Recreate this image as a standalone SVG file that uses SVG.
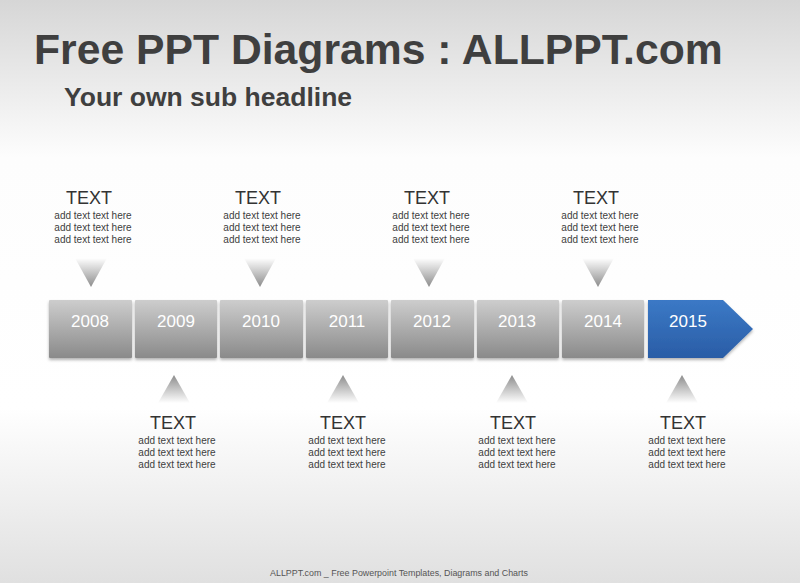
<svg xmlns="http://www.w3.org/2000/svg" width="800" height="583" viewBox="0 0 800 583">
<defs>
<linearGradient id="bg" x1="0" y1="0" x2="0" y2="1">
<stop offset="0" stop-color="#d6d6d6"/>
<stop offset="0.27" stop-color="#fdfdfd"/>
<stop offset="0.7" stop-color="#ffffff"/>
<stop offset="1" stop-color="#e0e0e0"/>
</linearGradient>
<linearGradient id="box" x1="0" y1="0" x2="0" y2="1">
<stop offset="0" stop-color="#cdcdcd"/>
<stop offset="1" stop-color="#8a8a8a"/>
</linearGradient>
<linearGradient id="blue" x1="0" y1="0" x2="0" y2="1">
<stop offset="0" stop-color="#3b79c6"/>
<stop offset="1" stop-color="#2a5da6"/>
</linearGradient>
<linearGradient id="tdown" x1="0" y1="0" x2="0" y2="1">
<stop offset="0" stop-color="#ffffff"/>
<stop offset="1" stop-color="#8c8c8c"/>
</linearGradient>
<linearGradient id="tup" x1="0" y1="0" x2="0" y2="1">
<stop offset="0" stop-color="#8c8c8c"/>
<stop offset="1" stop-color="#ffffff"/>
</linearGradient>
<filter id="sh" x="-10%" y="-10%" width="130%" height="140%">
<feDropShadow dx="0" dy="2" stdDeviation="1.5" flood-color="#000" flood-opacity="0.3"/>
</filter>
</defs>
<style>
.ttl{font-family:"Liberation Sans",Arial,sans-serif;font-weight:bold;fill:#3f3f3f}
.yr{font-family:"Liberation Sans",Arial,sans-serif;font-size:17px;fill:#ffffff;text-anchor:middle}
.hd{font-family:"Liberation Sans",Arial,sans-serif;font-size:18px;fill:#333333;text-anchor:middle}
.sm{font-family:"Liberation Sans",Arial,sans-serif;font-size:10px;fill:#404040;text-anchor:middle}
.ft{font-family:"Liberation Sans",Arial,sans-serif;font-size:8.9px;fill:#555555;text-anchor:middle}
.bx{fill:url(#box);filter:url(#sh)}
.td{fill:url(#tdown)}
.tu{fill:url(#tup)}
</style>
<rect x="0" y="0" width="800" height="583" fill="url(#bg)"/>
<text class="ttl" x="34" y="64" font-size="42.7">Free PPT Diagrams : ALLPPT.com</text>
<text class="ttl" x="64" y="106" font-size="26.5">Your own sub headline</text>

<g id="y2008"><rect class="bx" x="49" y="300" width="83" height="58" rx="1"/><text class="yr" x="90" y="327">2008</text></g>
<g id="y2009"><rect class="bx" x="135" y="300" width="82" height="58" rx="1"/><text class="yr" x="176" y="327">2009</text></g>
<g id="y2010"><rect class="bx" x="220" y="300" width="83" height="58" rx="1"/><text class="yr" x="261" y="327">2010</text></g>
<g id="y2011"><rect class="bx" x="306" y="300" width="82" height="58" rx="1"/><text class="yr" x="347" y="327">2011</text></g>
<g id="y2012"><rect class="bx" x="391" y="300" width="83" height="58" rx="1"/><text class="yr" x="432" y="327">2012</text></g>
<g id="y2013"><rect class="bx" x="477" y="300" width="82" height="58" rx="1"/><text class="yr" x="517" y="327">2013</text></g>
<g id="y2014"><rect class="bx" x="562" y="300" width="82" height="58" rx="1"/><text class="yr" x="603" y="327">2014</text></g>
<g id="y2015"><path d="M648 300 H723 L753 329 L723 358 H648 Z" fill="url(#blue)" filter="url(#sh)"/><text class="yr" x="688" y="327">2015</text></g>

<g id="connectors">
<polygon class="td" points="75,258 107,258 91,287"/>
<polygon class="td" points="244,258 276,258 260,287"/>
<polygon class="td" points="413,258 445,258 429,287"/>
<polygon class="td" points="582,258 614,258 598,287"/>
<polygon class="tu" points="174,375 190,403 158,403"/>
<polygon class="tu" points="343,375 359,403 327,403"/>
<polygon class="tu" points="512,375 528,403 496,403"/>
<polygon class="tu" points="682,375 698,403 666,403"/>
</g>

<g id="n1"><text class="hd" x="89" y="204">TEXT</text><text class="sm" x="93" y="219">add text text here</text><text class="sm" x="93" y="231">add text text here</text><text class="sm" x="93" y="243">add text text here</text></g>
<g id="n2"><text class="hd" x="258" y="204">TEXT</text><text class="sm" x="262" y="219">add text text here</text><text class="sm" x="262" y="231">add text text here</text><text class="sm" x="262" y="243">add text text here</text></g>
<g id="n3"><text class="hd" x="427" y="204">TEXT</text><text class="sm" x="431" y="219">add text text here</text><text class="sm" x="431" y="231">add text text here</text><text class="sm" x="431" y="243">add text text here</text></g>
<g id="n4"><text class="hd" x="596" y="204">TEXT</text><text class="sm" x="600" y="219">add text text here</text><text class="sm" x="600" y="231">add text text here</text><text class="sm" x="600" y="243">add text text here</text></g>
<g id="n5"><text class="hd" x="173" y="429">TEXT</text><text class="sm" x="177" y="444">add text text here</text><text class="sm" x="177" y="456">add text text here</text><text class="sm" x="177" y="468">add text text here</text></g>
<g id="n6"><text class="hd" x="343" y="429">TEXT</text><text class="sm" x="347" y="444">add text text here</text><text class="sm" x="347" y="456">add text text here</text><text class="sm" x="347" y="468">add text text here</text></g>
<g id="n7"><text class="hd" x="513" y="429">TEXT</text><text class="sm" x="517" y="444">add text text here</text><text class="sm" x="517" y="456">add text text here</text><text class="sm" x="517" y="468">add text text here</text></g>
<g id="n8"><text class="hd" x="683" y="429">TEXT</text><text class="sm" x="687" y="444">add text text here</text><text class="sm" x="687" y="456">add text text here</text><text class="sm" x="687" y="468">add text text here</text></g>

<text class="ft" x="399" y="576">ALLPPT.com _ Free Powerpoint Templates, Diagrams and Charts</text>
</svg>
